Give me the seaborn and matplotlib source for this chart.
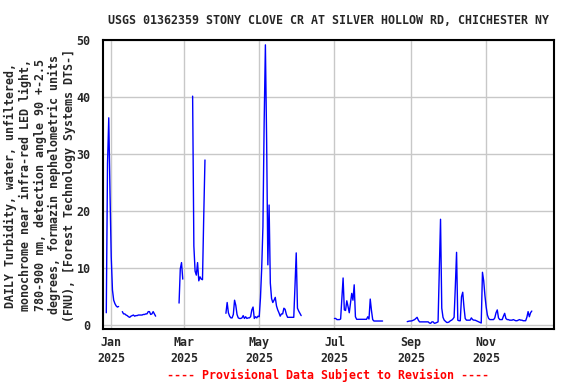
import numpy as np
import pandas as pd
import matplotlib
matplotlib.use("Agg")
import matplotlib.pyplot as plt
import seaborn as sns

# daily turbidity (FNU), one list per continuous record segment
seg1_start = "2024-12-28"
seg1_vals = [2.2, 28.4, 36.4, 23.4, 12.0, 6.2, 4.4, 3.8, 3.4, 3.2, 3.3,
             np.nan, np.nan,
             2.4, 2.0, 2.0, 1.8, 1.7, 1.5, 1.4, 1.6, 1.7, 1.8, 1.6, 1.7, 1.7,
             1.8, 1.8, 1.8, 1.8, 1.9, 1.9, 2.0, 2.0, 2.4, 2.4, 1.9, 2.0, 2.4,
             2.0, 1.6]

seg2_start = "2025-02-25"
seg2_vals = [3.9, 9.9, 11.0, 8.1,
             np.nan, np.nan, np.nan, np.nan, np.nan, np.nan, np.nan,
             40.2, 13.9, 9.5, 8.8, 11.0, 7.8, 8.5, 8.1, 8.0, 19.0, 29.0]

seg3_start = "2025-04-04"
seg3_vals = [2.1, 4.0, 2.2, 1.6, 1.3, 1.3, 1.9, 4.4, 3.5, 1.9, 1.3, 1.2, 1.2,
             1.3, 1.7, 1.2, 1.5, 1.2, 1.3, 1.3, 1.5, 2.7, 3.2, 1.2, 1.5, 1.3,
             1.6, 1.5, 4.8, 10.0, 17.3, 35.6, 49.2, 32.5, 10.6, 21.1, 7.4, 4.7,
             4.0, 4.4, 4.9, 3.4, 2.7, 2.2, 1.6, 2.0, 2.0, 3.0, 2.8, 1.9, 1.4,
             1.4, 1.4, 1.4, 1.4, 1.4, 6.9, 12.7, 3.0, 2.5, 2.1, 1.7]

seg4_start = "2025-07-01"
seg4_vals = [1.2, 1.2, 1.0, 1.0, 1.0, 1.1, 4.7, 8.3, 2.7, 2.6, 4.3, 3.3, 2.2,
             3.9, 5.6, 4.4, 7.1, 1.5, 1.05, 1.05, 1.05, 1.05, 1.05, 1.05,
             1.05, 1.05, 1.05, 1.5, 1.1, 4.6, 2.6, 1.0, 0.75, 0.75, 0.75,
             0.75, 0.75, 0.75, 0.75, 0.75]

seg5_start = "2025-08-29"
seg5_vals = [0.64, 0.7, 0.75, 0.75, 0.8, 0.9, 1.0, 1.2, 1.4, 0.9, 0.6, 0.6,
             0.6, 0.6, 0.6, 0.6, 0.6, 0.6, 0.4, 0.35, 0.6, 0.6, 0.35, 0.4,
             0.5, 0.6, 9.6, 18.6, 3.0, 1.4, 0.9, 0.7, 0.5, 0.5, 0.6, 0.8,
             0.9, 1.1, 1.4, 6.8, 12.8, 0.9, 0.8, 0.8, 5.0, 5.8, 3.2, 1.2,
             0.9, 0.9, 0.9, 0.9, 1.3, 1.0, 0.9, 0.9, 0.8, 0.7, 0.6, 0.5, 0.4,
             9.3, 7.8, 5.2, 3.2, 1.8, 1.2, 1.0, 1.0, 1.0, 1.0, 1.3, 2.2, 2.7,
             1.3, 1.0, 1.0, 1.0, 1.6, 2.1, 1.2, 1.0, 1.0, 0.9, 0.9, 0.9, 1.0,
             0.9, 0.8, 0.8, 0.9, 1.0, 0.9, 0.9, 0.8, 0.8, 0.8, 1.4, 2.4, 1.5,
             2.2, 2.5]

title = "USGS 01362359 STONY CLOVE CR AT SILVER HOLLOW RD, CHICHESTER NY"
ylabel = ("DAILY Turbidity, water, unfiltered,\n"
          "monochrome near infra-red LED light,\n"
          "780-900 nm, detection angle 90 +-2.5\n"
          "degrees, formazin nephelometric units\n"
          "(FNU), [Forest Technology Systems DTS-]")
footer = "---- Provisional Data Subject to Revision ----"
yticks = [0, 10, 20, 30, 40, 50]
xtick_dates = ["2025-01-01", "2025-03-01", "2025-05-01", "2025-07-01",
               "2025-09-01", "2025-11-01"]

frames = []
for i, (start, vals) in enumerate([(seg1_start, seg1_vals), (seg2_start, seg2_vals),
                                   (seg3_start, seg3_vals), (seg4_start, seg4_vals),
                                   (seg5_start, seg5_vals)]):
    d = pd.DataFrame({"date": pd.date_range(start, periods=len(vals), freq="D"),
                      "value": vals})
    # split on gaps so lines break there
    d["seg"] = i * 10 + d["value"].isna().cumsum()
    frames.append(d.dropna())
df = pd.concat(frames, ignore_index=True)

sns.set_style("white")
plt.rcParams['font.family'] = ['DejaVu Sans Mono']
plt.rcParams['font.weight'] = 'bold'
fs = 8.35

fig = plt.figure(figsize=(5.76, 3.84), dpi=100)
ax = fig.add_axes([103/576, 1 - 329/384, (554 - 103)/576, (329 - 40)/384])

sns.lineplot(data=df, x="date", y="value", units="seg", estimator=None,
             color="#0000ff", linewidth=1.0, ax=ax)

ax.set_xlim(pd.Timestamp("2024-12-25 08:00"), pd.Timestamp("2025-12-26"))
ax.set_ylim(-0.65, 50.05)
ax.set_yticks(yticks)
ax.set_yticklabels([str(t) for t in yticks], fontsize=fs, fontweight='bold')
xt = pd.to_datetime(xtick_dates)
ax.set_xticks(xt)
ax.set_xticklabels([f"{t.strftime('%b')}\n{t.year}" for t in xt],
                   fontsize=fs, fontweight='bold', linespacing=1.3)
ax.tick_params(axis='y', length=0, pad=9)
ax.tick_params(axis='x', length=0, pad=5)
ax.grid(True, color="#c8c8c8", linewidth=1.0)
ax.set_axisbelow(True)
for s in ax.spines.values():
    s.set_color("black")
    s.set_linewidth(1.5)
ax.set_xlabel("")
ax.set_ylabel("")

fig.text(328/576, 1 - 20/384, title, ha='center', va='center',
         fontsize=fs, fontweight='bold')
fig.text(40/576, 1 - 185/384, ylabel, ha='center', va='center', rotation=90,
         multialignment='center', fontsize=fs, fontweight='bold', linespacing=1.15)
fig.text(328/576, 1 - 375/384, footer, ha='center', va='center',
         fontsize=fs, fontweight='bold', color='#ff0000')

fig.savefig("out.png", dpi=100)
